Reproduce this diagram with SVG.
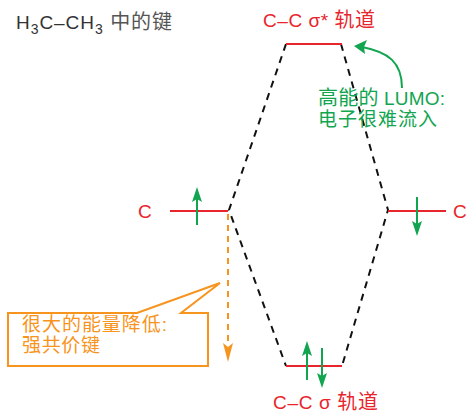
<svg xmlns="http://www.w3.org/2000/svg" width="469" height="413" viewBox="0 0 469 413">
<defs>
<style>
.t{font-family:"Liberation Sans","Noto Sans CJK SC",sans-serif;}
.red{fill:#e8242c;}
.grn{fill:#12a550;}
.org{fill:#f7941d;}
.lvl{stroke:#e8242c;stroke-width:2;fill:none;}
.dash{stroke:#111;stroke-width:2;stroke-dasharray:7,6;fill:none;}
.spin{stroke:#12a550;stroke-width:2;fill:none;}
.gh{fill:#12a550;}
</style>
</defs>
<g id="title"><text class="t" x="16" y="29" font-size="19" fill="#333" textLength="156" lengthAdjust="spacing">H<tspan font-size="14" dy="5">3</tspan><tspan dy="-5">C–CH</tspan><tspan font-size="14" dy="5">3</tspan><tspan dy="-5" fill="#555" font-size="20"> 中的键</tspan></text></g>
<g id="connectors">
<path class="dash" d="M286,44 L229,210 L286,366"/>
<path class="dash" d="M341,44 L388,210 L342,366"/>
<path d="M228,214 L228,346" stroke="#f7941d" stroke-width="2" stroke-dasharray="6,5" fill="none"/>
<path d="M223,343 L228,362 L233,343 L228,347 Z" fill="#f7941d"/>
<path d="M402,88 C402,62 388,52 362,47" stroke="#12a550" stroke-width="2" fill="none"/>
<path d="M354,46 L367,40 L364,47 L365,54 Z" class="gh"/>
</g>
<g id="sigma_star">
<line class="lvl" x1="286" y1="44" x2="342" y2="44"/>
<text class="t red" x="263" y="27" font-size="19" textLength="112" lengthAdjust="spacing">C–C σ* <tspan font-size="20">轨道</tspan></text>
</g>
<g id="sigma">
<line class="lvl" x1="286" y1="366" x2="342" y2="366"/>
<line class="spin" x1="307" y1="380" x2="307" y2="352"/>
<path class="gh" d="M307,341 L302,356 L307,353 L312,356 Z"/>
<line class="spin" x1="322" y1="348" x2="322" y2="376"/>
<path class="gh" d="M322,388 L317,373 L322,376 L327,373 Z"/>
<text class="t red" x="273" y="409" font-size="19" textLength="105" lengthAdjust="spacing">C–C σ <tspan font-size="20">轨道</tspan></text>
</g>
<g id="c_left">
<line class="lvl" x1="170" y1="211" x2="228" y2="211"/>
<line class="spin" x1="197" y1="225" x2="197" y2="198"/>
<path class="gh" d="M197,187 L192,202 L197,199 L202,202 Z"/>
<text class="t red" x="138" y="218" font-size="19">C</text>
</g>
<g id="c_right">
<line class="lvl" x1="388" y1="211" x2="446" y2="211"/>
<line class="spin" x1="417" y1="197" x2="417" y2="224"/>
<path class="gh" d="M417,236 L412,221 L417,224 L422,221 Z"/>
<text class="t red" x="453" y="218" font-size="19">C</text>
</g>
<g id="lumo_note">
<text class="t grn" x="318" y="105" font-size="19" textLength="127" lengthAdjust="spacing"><tspan font-size="20">高能的</tspan> LUMO:</text>
<text class="t grn" x="318" y="126" font-size="19" textLength="119" lengthAdjust="spacing">电子很难流入</text>
</g>
<g id="callout">
<path d="M8,313 L137,313 L220,283 L181,313 L208,313 L208,366 L8,366 Z" fill="#fff" stroke="#f7941d" stroke-width="2"/>
<text class="t org" x="22" y="331" font-size="19" textLength="145" lengthAdjust="spacing">很大的能量降低:</text>
<text class="t org" x="22" y="352" font-size="19" textLength="78" lengthAdjust="spacing">强共价键</text>
</g>
</svg>
